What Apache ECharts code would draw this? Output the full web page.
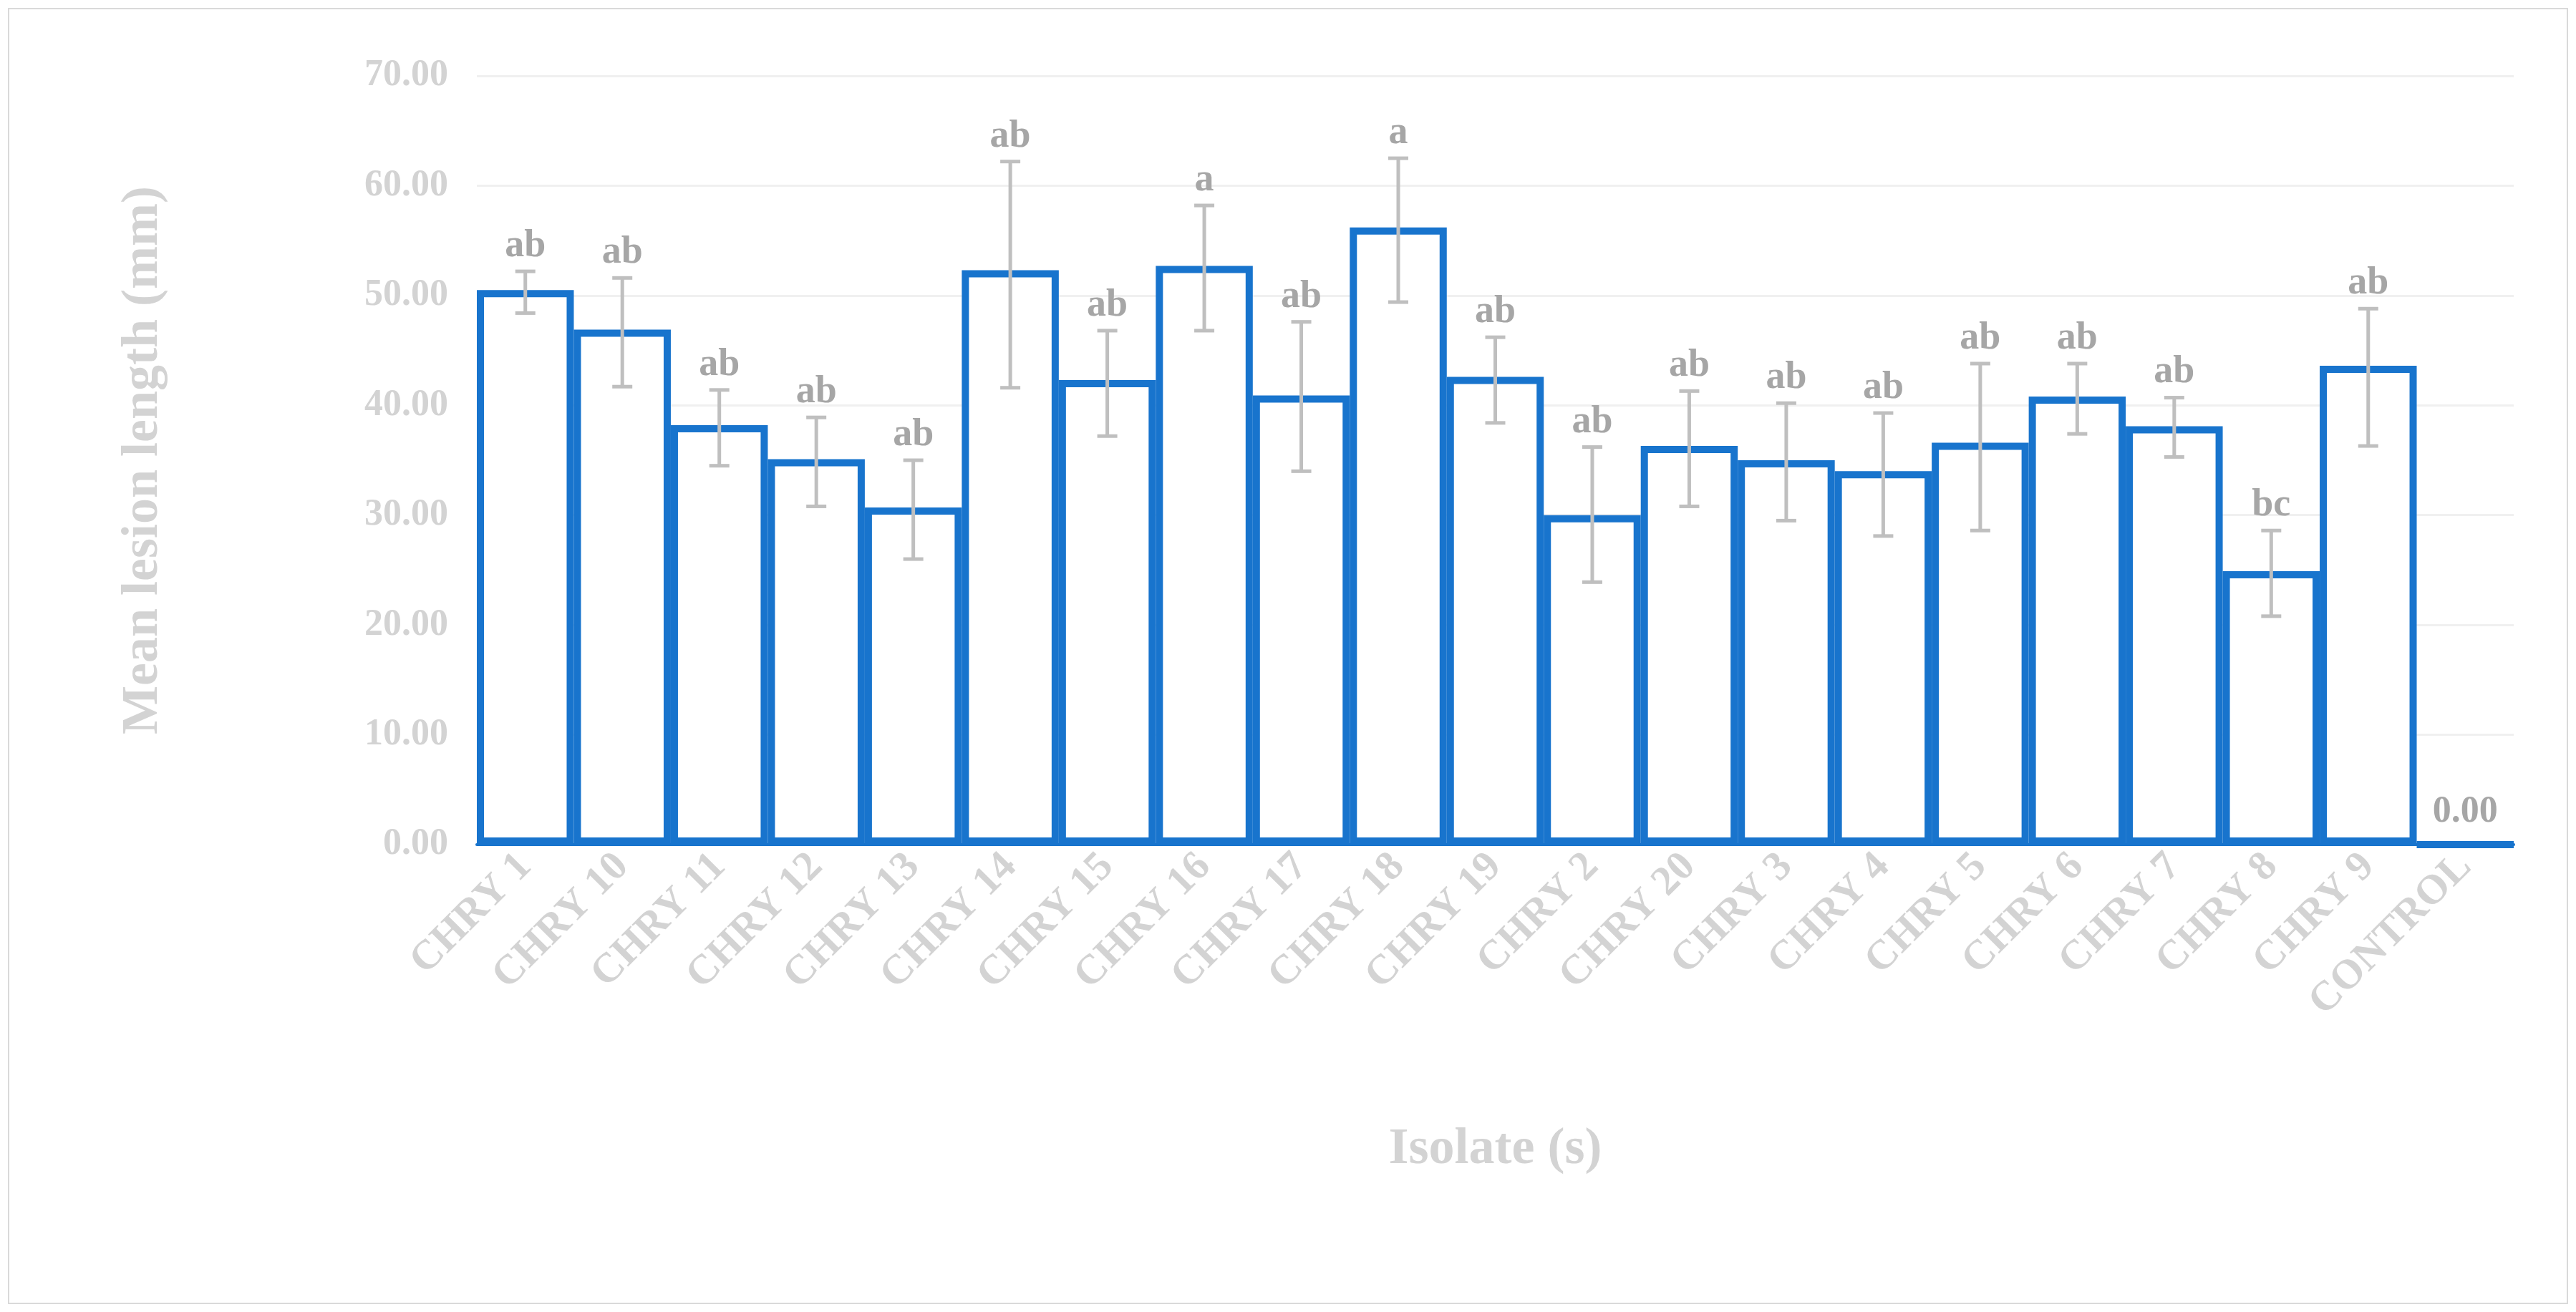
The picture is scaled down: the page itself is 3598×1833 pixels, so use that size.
<!DOCTYPE html>
<html lang="en">
<head>
	<meta charset="UTF-8">
	<title>Mean lesion length</title>
	<script src="https://cdn.jsdelivr.net/npm/echarts@6/dist/echarts.min.js"></script>
</head>
<body style="margin:0;background:#fff">
    <div id="main" style="width: 3598px;height:1833px;"></div>
    <script type="text/javascript">
    	// isolates, in chart order
    	var isolates = ['CHRY 1','CHRY 10','CHRY 11','CHRY 12','CHRY 13','CHRY 14','CHRY 15','CHRY 16','CHRY 17','CHRY 18','CHRY 19','CHRY 2','CHRY 20','CHRY 3','CHRY 4','CHRY 5','CHRY 6','CHRY 7','CHRY 8','CHRY 9','CONTROL'];
    	var means = [50.5,46.9,38.2,35.1,30.7,52.3,42.3,52.7,40.9,56.2,42.6,30.0,36.3,35.0,34.0,36.6,40.8,38.1,24.9,43.6,0];
    	var errHigh = [52.2,51.6,41.4,38.9,35.0,62.2,46.8,58.2,47.6,62.5,46.2,36.2,41.3,40.2,39.3,43.8,43.8,40.7,28.6,48.8,null];
    	var errLow = [48.4,41.7,34.5,30.8,26.0,41.6,37.2,46.8,34.0,49.4,38.4,23.9,30.8,29.5,28.1,28.6,37.4,35.3,20.8,36.3,null];
    	var letters = ['ab','ab','ab','ab','ab','ab','ab','a','ab','a','ab','ab','ab','ab','ab','ab','ab','ab','bc','ab',''];

    	var blue = '#1874CD';
    	var grey = '#d3d3d3';
    	var font = 'Liberation Serif';

    	var errData = [];
    	for (var i = 0; i < isolates.length; i++) {
    		if (errHigh[i] != null) errData.push([i, errLow[i], errHigh[i], letters[i]]);
    	}

    	var myChart = echarts.init(document.getElementById('main'));
		option = {
			backgroundColor: '#fff',
			textStyle: { fontFamily: font },
			graphic: [{
				type: 'rect', shape: { x: 12, y: 12, width: 3574, height: 1809 },
				style: { fill: 'none', stroke: '#d9d9d9', lineWidth: 2 }
			}],
			grid: { left: 666, right: 87, top: 106, bottom: 653 },
			xAxis: {
				type: 'category',
				data: isolates,
				name: 'Isolate (s)',
				nameLocation: 'middle',
				nameGap: 390,
				nameTextStyle: { color: grey, fontSize: 72, fontWeight: 'bold', fontFamily: font },
				axisLine: { lineStyle: { color: blue, width: 4 } },
				axisTick: { alignWithLabel: true, length: 12, lineStyle: { color: blue, width: 4 } },
				axisLabel: { rotate: 45, color: grey, fontSize: 58, fontWeight: 'bold', fontFamily: font, margin: 22 }
			},
			yAxis: {
				type: 'value',
				min: 0, max: 70, interval: 10,
				name: 'Mean lesion length (mm)',
				nameLocation: 'middle',
				nameGap: 430,
				nameTextStyle: { color: grey, fontSize: 72, fontWeight: 'bold', fontFamily: font },
				axisLabel: { color: grey, fontSize: 52, fontWeight: 'bold', fontFamily: font, margin: 40,
					formatter: function (v) { return v.toFixed(2); } },
				axisLine: { show: false },
				splitLine: { lineStyle: { color: '#f0f0f0', width: 3 } }
			},
			series: [
				{
					type: 'bar',
					data: means,
					barWidth: '100%',
					itemStyle: { color: '#fff', borderColor: blue, borderWidth: 10 },
					label: {
						show: true, position: 'top', distance: 14,
						formatter: function (p) { return p.value === 0 ? '0.00' : ''; },
						color: '#a6a6a6', fontSize: 52, fontWeight: 'bold', fontFamily: font
					},
					z: 2
				},
				{
					type: 'custom',
					data: errData,
					z: 5,
					renderItem: function (params, api) {
						var x = api.value(0);
						var lo = api.coord([x, api.value(1)]);
						var hi = api.coord([x, api.value(2)]);
						var w = 14;
						var st = { stroke: '#bfbfbf', lineWidth: 5 };
						return {
							type: 'group',
							children: [
								{ type: 'line', shape: { x1: hi[0], y1: hi[1], x2: lo[0], y2: lo[1] }, style: st },
								{ type: 'line', shape: { x1: hi[0] - w, y1: hi[1], x2: hi[0] + w, y2: hi[1] }, style: st },
								{ type: 'line', shape: { x1: lo[0] - w, y1: lo[1], x2: lo[0] + w, y2: lo[1] }, style: st },
								{ type: 'text', x: hi[0], y: hi[1] - 8,
									style: { text: api.value(3), textAlign: 'center', textVerticalAlign: 'bottom',
										fill: '#a6a6a6', font: 'bold 54px "Liberation Serif"' } }
							]
						};
					}
				}
			]
		};
		myChart.setOption(option);
    </script>
</body>
</html>
